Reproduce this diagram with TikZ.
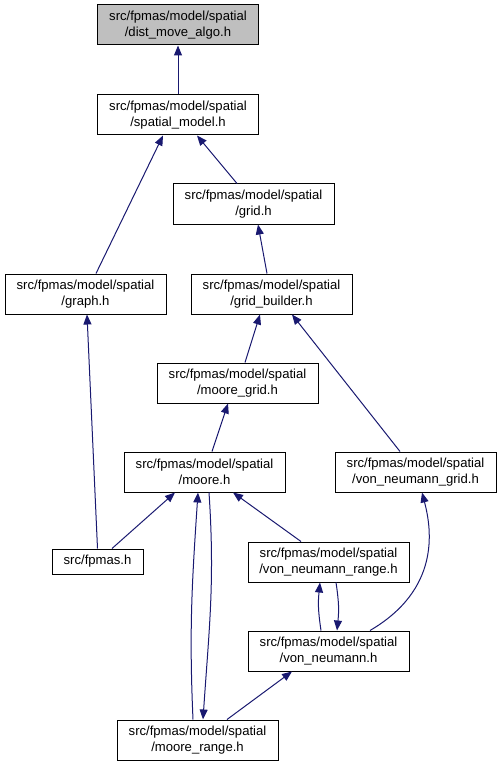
\documentclass[tikz,border=0pt]{standalone}
\usepackage{fontspec}
\setmainfont{Liberation Sans}
\usetikzlibrary{arrows.meta}
\definecolor{edgeblue}{HTML}{191970}
\definecolor{rootgray}{HTML}{BFBFBF}

\begin{document}
\begin{tikzpicture}[x=1pt,y=-1pt,
  file/.style={draw,line width=1pt,align=center,inner sep=0pt,minimum width=161pt,minimum height=40pt,font=\fontsize{13.1}{16}\selectfont},
  inc/.style={draw=edgeblue,line width=1pt,-{Triangle[length=10pt,width=8pt]}}]
\useasboundingbox (0,0) rectangle (501,767);
\node[file,fill=rootgray] (dma) at (178,25) {src/fpmas/model/spatial\\/dist\_move\_algo.h};
\node[file] (sm) at (178,115) {src/fpmas/model/spatial\\/spatial\_model.h};
\node[file] (grid) at (253.5,204) {src/fpmas/model/spatial\\/grid.h};
\node[file] (graph) at (85.5,294) {src/fpmas/model/spatial\\/graph.h};
\node[file] (gb) at (271.5,294) {src/fpmas/model/spatial\\/grid\_builder.h};
\node[file] (mg) at (237.5,383) {src/fpmas/model/spatial\\/moore\_grid.h};
\node[file] (moore) at (204.5,472) {src/fpmas/model/spatial\\/moore.h};
\node[file] (vng) at (415.5,472) {src/fpmas/model/spatial\\/von\_neumann\_grid.h};
\node[file,minimum width=91pt,minimum height=25pt] (fpmas) at (97.5,561.5) {src/fpmas.h};
\node[file] (vnr) at (328.5,562) {src/fpmas/model/spatial\\/von\_neumann\_range.h};
\node[file] (vn) at (328.5,651) {src/fpmas/model/spatial\\/von\_neumann.h};
\node[file] (mr) at (197.5,740) {src/fpmas/model/spatial\\/moore\_range.h};

\draw[inc] (sm.north) -- (dma.south);
\draw[inc] ([xshift=10.5pt]graph.north) -- ([xshift=-15pt]sm.south);
\draw[inc] ([xshift=-16.5pt]grid.north) -- ([xshift=19pt]sm.south);
\draw[inc] ([xshift=-4.5pt]gb.north) -- ([xshift=4.5pt]grid.south);
\draw[inc] (fpmas.north) -- ([xshift=1.5pt]graph.south);
\draw[inc] ([xshift=7.5pt]mg.north) -- ([xshift=-11.5pt]gb.south);
\draw[inc] ([xshift=-15.5pt]vng.north) -- ([xshift=20.5pt]gb.south);
\draw[inc] ([xshift=7.5pt]moore.north) -- ([xshift=-9.5pt]mg.south);
\draw[inc] ([xshift=14.5pt]fpmas.north) -- ([xshift=-29.5pt]moore.south);
\draw[inc] ([xshift=-4.5pt]mr.north) .. controls +(-4,-90) and +(-6,90) .. ([xshift=-6.5pt]moore.south);
\draw[inc] ([xshift=4.5pt]moore.south) .. controls +(6,90) and +(6,-90) .. ([xshift=5.5pt]mr.north);
\draw[inc] ([xshift=-27.5pt]vnr.north) -- ([xshift=28.5pt]moore.south);
\draw[inc] ([xshift=-7.5pt]vn.north) .. controls +(-3,-20) and +(-2,20) .. ([xshift=-8.5pt]vnr.south);
\draw[inc] ([xshift=7.5pt]vnr.south) .. controls +(3,20) and +(2,-20) .. ([xshift=8.5pt]vn.north);
\draw[inc] ([xshift=41.5pt]vn.north) .. controls +(70,-41) and +(10,38) .. ([xshift=6.5pt]vng.south);
\draw[inc] ([xshift=29.5pt]mr.north) -- ([xshift=-36.5pt]vn.south);
\end{tikzpicture}
\end{document}
